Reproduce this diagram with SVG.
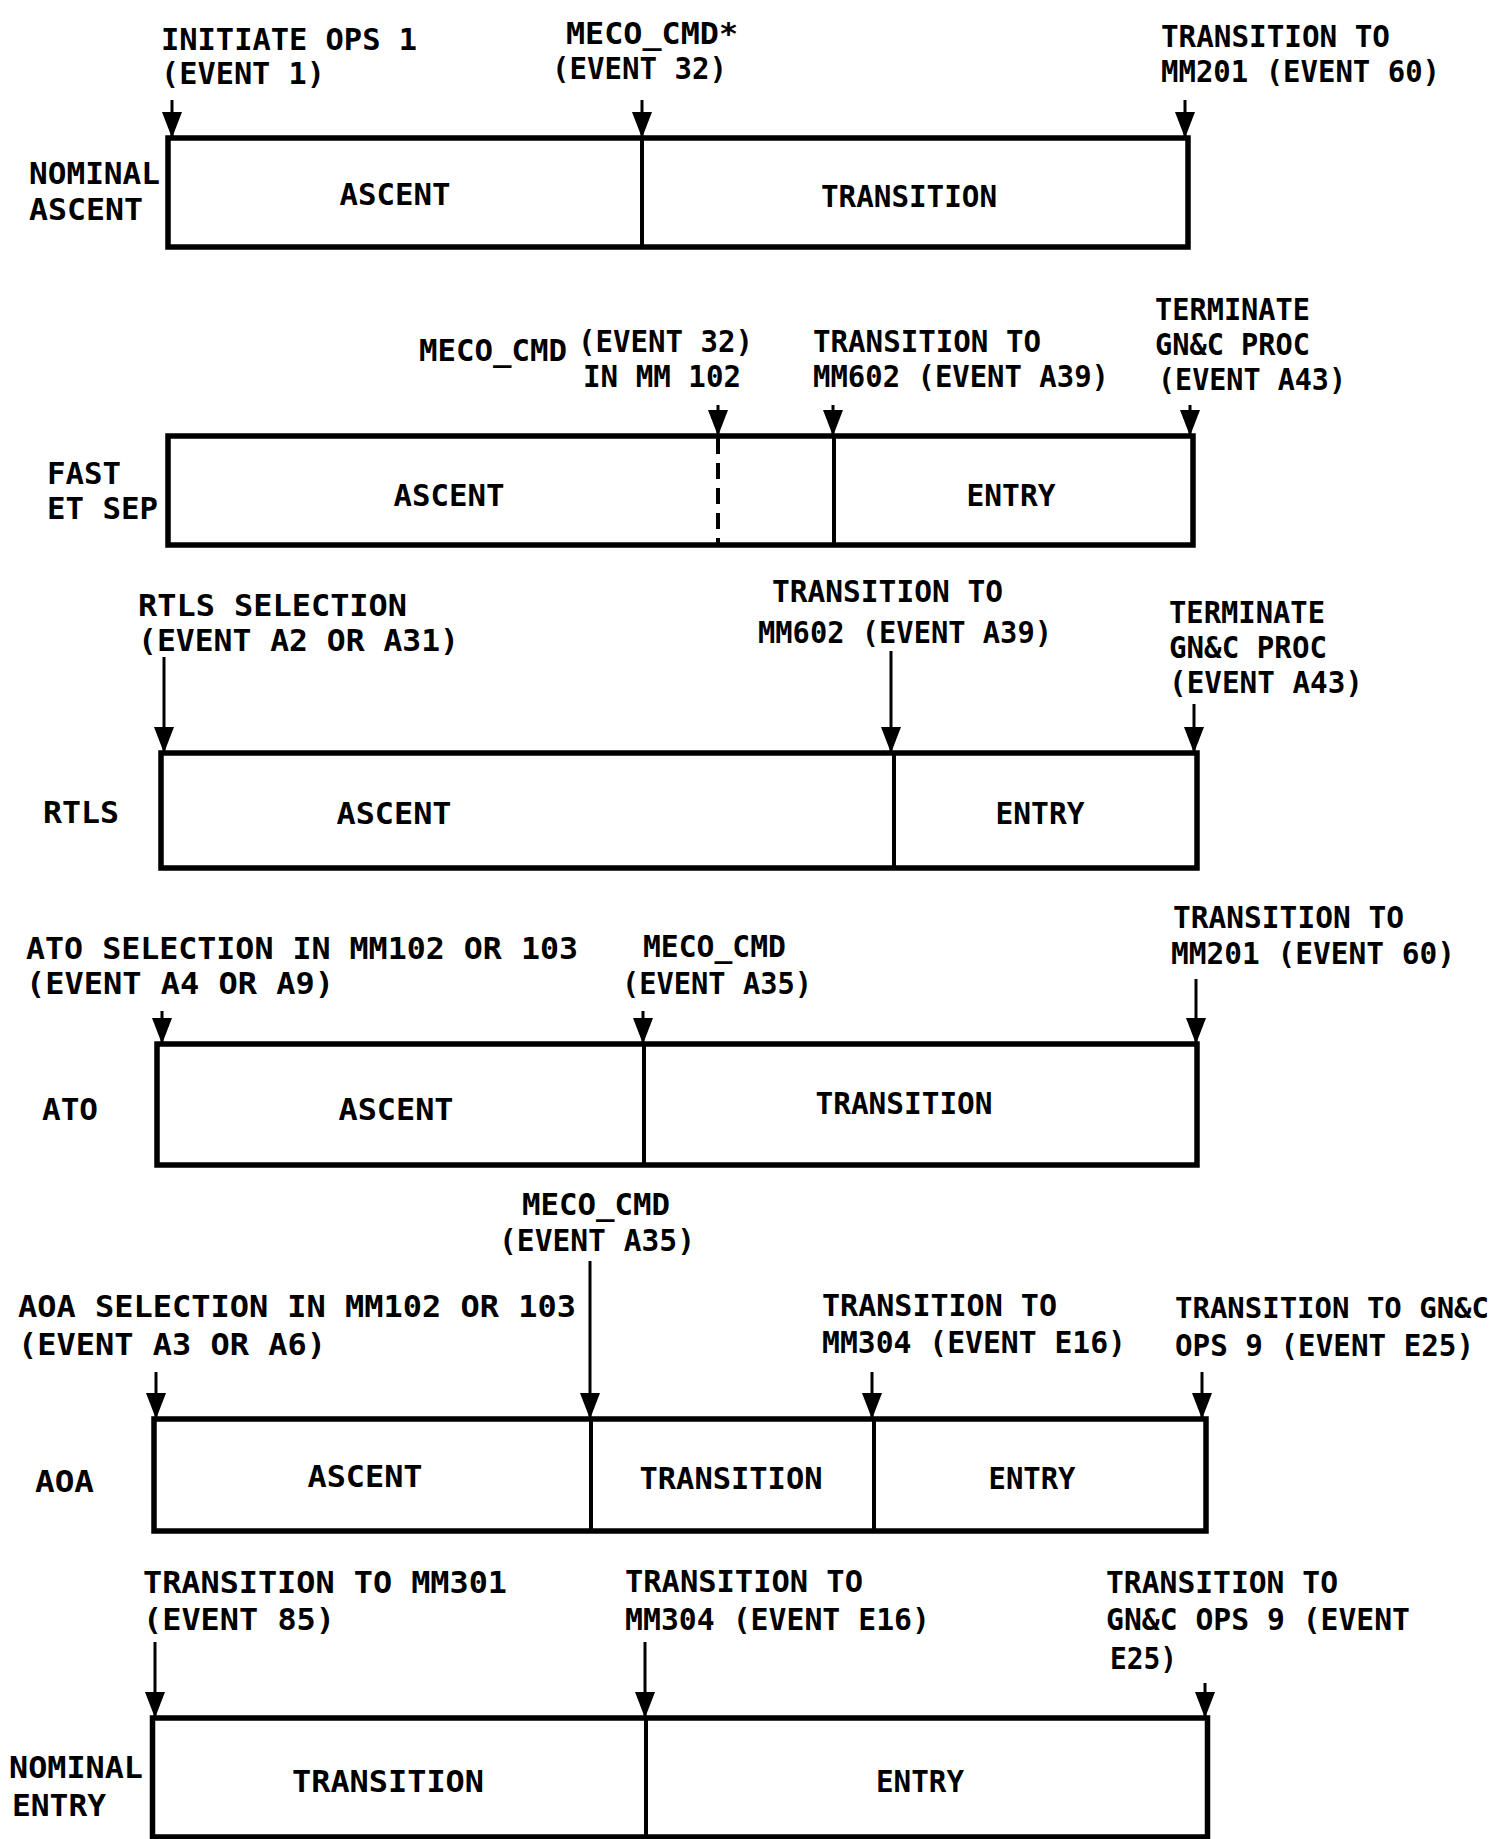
<svg xmlns="http://www.w3.org/2000/svg" width="1499" height="1839" viewBox="0 0 1499 1839">
<style>
.t { font-family: "DejaVu Sans Mono", "Liberation Mono", monospace; font-size: 30px; font-weight: bold; fill: #000; }
.s { font-size: 29px; }
.m { text-anchor: middle; }
.box { fill: #fff; stroke: #000; stroke-width: 5.5; }
.dv { stroke: #000; stroke-width: 4; fill: none; }
.dash { stroke-dasharray: 16 9; }
.arr { stroke: #000; stroke-width: 3; fill: none; marker-end: url(#ah); }
</style>
<defs>
<marker id="ah" markerUnits="userSpaceOnUse" viewBox="0 -11 26 22" markerWidth="26" markerHeight="22" refX="26" refY="0" orient="auto">
<path d="M0,-10 L26,0 L0,10 Z" fill="#000"/>
</marker>
</defs>
<rect width="1499" height="1839" fill="#fff"/>

<!-- Row 1: NOMINAL ASCENT -->
<g id="row-nominal-ascent">
<text class="t" x="29" y="184" textLength="131" lengthAdjust="spacingAndGlyphs">NOMINAL</text>
<text class="t" x="29" y="220" textLength="114" lengthAdjust="spacingAndGlyphs">ASCENT</text>
<rect class="box" x="168" y="138" width="1020" height="109"/>
<line class="dv" x1="642" y1="138" x2="642" y2="247"/>
<g id="na-ascent"><text class="t m" x="395" y="205" textLength="111" lengthAdjust="spacingAndGlyphs">ASCENT</text></g>
<g id="na-transition"><text class="t m" x="909" y="207" textLength="176" lengthAdjust="spacingAndGlyphs">TRANSITION</text></g>
</g>
<g id="ev-na">
<text class="t" x="161" y="50" textLength="256" lengthAdjust="spacingAndGlyphs">INITIATE OPS 1</text>
<text class="t" x="161" y="84" textLength="164" lengthAdjust="spacingAndGlyphs">(EVENT 1)</text>
<text class="t" x="566" y="44" textLength="172" lengthAdjust="spacingAndGlyphs">MECO_CMD*</text>
<text class="t" x="552" y="79" textLength="175" lengthAdjust="spacingAndGlyphs">(EVENT 32)</text>
<text class="t" x="1161" y="47" textLength="229" lengthAdjust="spacingAndGlyphs">TRANSITION TO</text>
<text class="t" x="1161" y="82" textLength="279" lengthAdjust="spacingAndGlyphs">MM201 (EVENT 60)</text>
</g>

<!-- Row 2: FAST ET SEP -->
<g id="row-fast-et-sep">
<text class="t" x="47" y="484" textLength="74" lengthAdjust="spacingAndGlyphs">FAST</text>
<text class="t" x="47" y="519" textLength="111" lengthAdjust="spacingAndGlyphs">ET SEP</text>
<rect class="box" x="168" y="436" width="1025" height="109"/>
<line class="dv dash" x1="718" y1="438" x2="718" y2="543"/>
<line class="dv" x1="834" y1="436" x2="834" y2="545"/>
<g id="fs-ascent"><text class="t m" x="449" y="506" textLength="111" lengthAdjust="spacingAndGlyphs">ASCENT</text></g>
<g id="fs-entry"><text class="t m" x="1011" y="506" textLength="89" lengthAdjust="spacingAndGlyphs">ENTRY</text></g>
</g>
<g id="ev-fs">
<text class="t" x="419" y="361" textLength="148" lengthAdjust="spacingAndGlyphs">MECO_CMD</text>
<text class="t" x="578" y="352" textLength="175" lengthAdjust="spacingAndGlyphs">(EVENT 32)</text>
<text class="t" x="583" y="387" textLength="158" lengthAdjust="spacingAndGlyphs">IN MM 102</text>
<text class="t" x="813" y="352" textLength="228" lengthAdjust="spacingAndGlyphs">TRANSITION TO</text>
<text class="t" x="813" y="387" textLength="296" lengthAdjust="spacingAndGlyphs">MM602 (EVENT A39)</text>
<text class="t" x="1155" y="320" textLength="155" lengthAdjust="spacingAndGlyphs">TERMINATE</text>
<text class="t" x="1155" y="355" textLength="155" lengthAdjust="spacingAndGlyphs">GN&amp;C PROC</text>
<text class="t" x="1158" y="390" textLength="188" lengthAdjust="spacingAndGlyphs">(EVENT A43)</text>
</g>

<!-- Row 3: RTLS -->
<g id="row-rtls">
<text class="t" x="43" y="823" textLength="76" lengthAdjust="spacingAndGlyphs">RTLS</text>
<rect class="box" x="161" y="753" width="1036" height="115"/>
<line class="dv" x1="894" y1="753" x2="894" y2="868"/>
<g id="rt-ascent"><text class="t m" x="394" y="824" textLength="115" lengthAdjust="spacingAndGlyphs">ASCENT</text></g>
<g id="rt-entry"><text class="t m" x="1040" y="824" textLength="89" lengthAdjust="spacingAndGlyphs">ENTRY</text></g>
</g>
<g id="ev-rt">
<text class="t" x="138" y="616" textLength="269" lengthAdjust="spacingAndGlyphs">RTLS SELECTION</text>
<text class="t" x="138" y="651" textLength="321" lengthAdjust="spacingAndGlyphs">(EVENT A2 OR A31)</text>
<text class="t" x="772" y="602" textLength="231" lengthAdjust="spacingAndGlyphs">TRANSITION TO</text>
<text class="t" x="758" y="643" textLength="294" lengthAdjust="spacingAndGlyphs">MM602 (EVENT A39)</text>
<text class="t" x="1169" y="623" textLength="156" lengthAdjust="spacingAndGlyphs">TERMINATE</text>
<text class="t" x="1169" y="658" textLength="158" lengthAdjust="spacingAndGlyphs">GN&amp;C PROC</text>
<text class="t" x="1169" y="693" textLength="194" lengthAdjust="spacingAndGlyphs">(EVENT A43)</text>
</g>

<!-- Row 4: ATO -->
<g id="row-ato">
<text class="t" x="42" y="1120" textLength="56" lengthAdjust="spacingAndGlyphs">ATO</text>
<rect class="box" x="157" y="1044" width="1040" height="121"/>
<line class="dv" x1="644" y1="1044" x2="644" y2="1165"/>
<g id="ato-ascent"><text class="t m" x="396" y="1120" textLength="115" lengthAdjust="spacingAndGlyphs">ASCENT</text></g>
<g id="ato-transition"><text class="t m" x="904" y="1114" textLength="177" lengthAdjust="spacingAndGlyphs">TRANSITION</text></g>
</g>
<g id="ev-ato">
<text class="t" x="26" y="959" textLength="552" lengthAdjust="spacingAndGlyphs">ATO SELECTION IN MM102 OR 103</text>
<text class="t" x="26" y="994" textLength="308" lengthAdjust="spacingAndGlyphs">(EVENT A4 OR A9)</text>
<text class="t" x="643" y="957" textLength="143" lengthAdjust="spacingAndGlyphs">MECO_CMD</text>
<text class="t" x="622" y="994" textLength="190" lengthAdjust="spacingAndGlyphs">(EVENT A35)</text>
<text class="t" x="1173" y="928" textLength="231" lengthAdjust="spacingAndGlyphs">TRANSITION TO</text>
<text class="t" x="1171" y="964" textLength="284" lengthAdjust="spacingAndGlyphs">MM201 (EVENT 60)</text>
</g>

<!-- Row 5: AOA -->
<g id="row-aoa">
<text class="t" x="35" y="1492" textLength="59" lengthAdjust="spacingAndGlyphs">AOA</text>
<rect class="box" x="154" y="1419" width="1052" height="112"/>
<line class="dv" x1="591" y1="1419" x2="591" y2="1531"/>
<line class="dv" x1="874" y1="1419" x2="874" y2="1531"/>
<g id="aoa-ascent"><text class="t m" x="365" y="1487" textLength="115" lengthAdjust="spacingAndGlyphs">ASCENT</text></g>
<g id="aoa-transition"><text class="t m" x="731" y="1489" textLength="183" lengthAdjust="spacingAndGlyphs">TRANSITION</text></g>
<g id="aoa-entry"><text class="t m" x="1032" y="1489" textLength="87" lengthAdjust="spacingAndGlyphs">ENTRY</text></g>
</g>
<g id="ev-aoa">
<text class="t" x="522" y="1215" textLength="148" lengthAdjust="spacingAndGlyphs">MECO_CMD</text>
<text class="t" x="499" y="1251" textLength="196" lengthAdjust="spacingAndGlyphs">(EVENT A35)</text>
<text class="t" x="18" y="1317" textLength="558" lengthAdjust="spacingAndGlyphs">AOA SELECTION IN MM102 OR 103</text>
<text class="t" x="18" y="1355" textLength="308" lengthAdjust="spacingAndGlyphs">(EVENT A3 OR A6)</text>
<text class="t" x="822" y="1316" textLength="235" lengthAdjust="spacingAndGlyphs">TRANSITION TO</text>
<text class="t" x="822" y="1353" textLength="304" lengthAdjust="spacingAndGlyphs">MM304 (EVENT E16)</text>
<text class="t s" x="1175" y="1318" textLength="314" lengthAdjust="spacingAndGlyphs">TRANSITION TO GN&amp;C</text>
<text class="t" x="1175" y="1356" textLength="299" lengthAdjust="spacingAndGlyphs">OPS 9 (EVENT E25)</text>
</g>

<!-- Row 6: NOMINAL ENTRY -->
<g id="row-nominal-entry">
<text class="t" x="9" y="1778" textLength="134" lengthAdjust="spacingAndGlyphs">NOMINAL</text>
<text class="t" x="12" y="1816" textLength="94" lengthAdjust="spacingAndGlyphs">ENTRY</text>
<rect class="box" x="152.5" y="1718" width="1055" height="119"/>
<line class="dv" x1="646" y1="1718" x2="646" y2="1837"/>
<g id="ne-transition"><text class="t m" x="388" y="1792" textLength="192" lengthAdjust="spacingAndGlyphs">TRANSITION</text></g>
<g id="ne-entry"><text class="t m" x="920" y="1792" textLength="88" lengthAdjust="spacingAndGlyphs">ENTRY</text></g>
</g>
<g id="ev-ne">
<text class="t" x="143" y="1593" textLength="364" lengthAdjust="spacingAndGlyphs">TRANSITION TO MM301</text>
<text class="t" x="143" y="1630" textLength="192" lengthAdjust="spacingAndGlyphs">(EVENT 85)</text>
<text class="t" x="625" y="1592" textLength="238" lengthAdjust="spacingAndGlyphs">TRANSITION TO</text>
<text class="t" x="625" y="1630" textLength="305" lengthAdjust="spacingAndGlyphs">MM304 (EVENT E16)</text>
<text class="t" x="1106" y="1593" textLength="232" lengthAdjust="spacingAndGlyphs">TRANSITION TO</text>
<text class="t" x="1106" y="1630" textLength="304" lengthAdjust="spacingAndGlyphs">GN&amp;C OPS 9 (EVENT</text>
<text class="t" x="1110" y="1669" textLength="67" lengthAdjust="spacingAndGlyphs">E25)</text>
</g>

<!-- Connectors -->
<g id="connectors">
<line class="arr" x1="172" y1="100" x2="172" y2="138"/>
<line class="arr" x1="642" y1="100" x2="642" y2="138"/>
<line class="arr" x1="1185" y1="100" x2="1185" y2="138"/>
<line class="arr" x1="718" y1="405" x2="718" y2="436"/>
<line class="arr" x1="833" y1="405" x2="833" y2="436"/>
<line class="arr" x1="1190" y1="405" x2="1190" y2="436"/>
<line class="arr" x1="164" y1="657" x2="164" y2="753"/>
<line class="arr" x1="891" y1="651" x2="891" y2="753"/>
<line class="arr" x1="1194" y1="704" x2="1194" y2="753"/>
<line class="arr" x1="162" y1="1011" x2="162" y2="1044"/>
<line class="arr" x1="643" y1="1011" x2="643" y2="1044"/>
<line class="arr" x1="1196" y1="979" x2="1196" y2="1044"/>
<line class="arr" x1="156" y1="1372" x2="156" y2="1419"/>
<line class="arr" x1="590" y1="1261" x2="590" y2="1419"/>
<line class="arr" x1="872" y1="1372" x2="872" y2="1419"/>
<line class="arr" x1="1202" y1="1372" x2="1202" y2="1419"/>
<line class="arr" x1="155" y1="1642" x2="155" y2="1718"/>
<line class="arr" x1="645" y1="1642" x2="645" y2="1718"/>
<line class="arr" x1="1205" y1="1683" x2="1205" y2="1718"/>
</g>
</svg>
